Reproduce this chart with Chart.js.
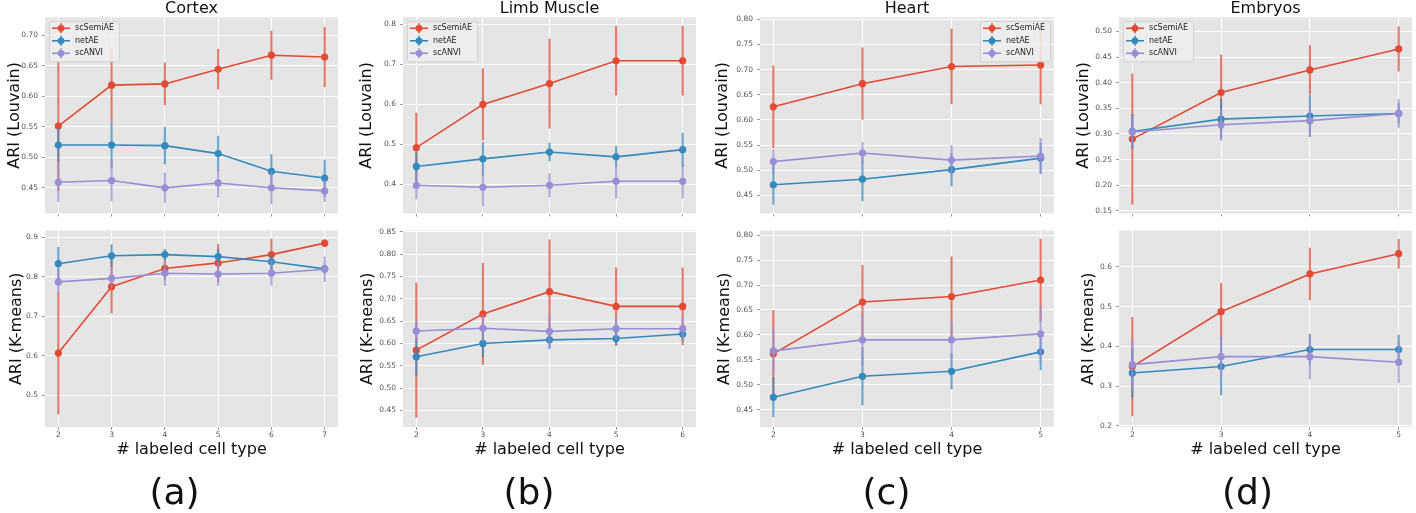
<!DOCTYPE html>
<html>
<head>
<meta charset="utf-8">
<script src="https://cdn.jsdelivr.net/npm/chart.js@4.4.1/dist/chart.umd.min.js"></script>
<style>
  body { margin: 0; background: #fff; width: 1416px; height: 513px; position: relative; overflow: hidden; }
</style>
</head>
<body>
<script>
// number of labeled cell types on the x axis
const cortexX = [2, 3, 4, 5, 6, 7];
const limbX = [2, 3, 4, 5, 6];
const heartX = [2, 3, 4, 5];
const embryoX = [2, 3, 4, 5];

const seriesNames = ['scSemiAE', 'netAE', 'scANVI'];

// Cortex
const cortexLouvainSemi = [0.551, 0.618, 0.620, 0.644, 0.667, 0.664];
const cortexLouvainSemiErr = [0.106, 0.060, 0.035, 0.033, 0.040, 0.049];
const cortexLouvainNet = [0.520, 0.520, 0.519, 0.506, 0.477, 0.466];
const cortexLouvainNetErr = [0.028, 0.038, 0.031, 0.029, 0.028, 0.030];
const cortexLouvainAnvi = [0.459, 0.462, 0.450, 0.458, 0.450, 0.445];
const cortexLouvainAnviErr = [0.032, 0.034, 0.025, 0.024, 0.027, 0.018];
const cortexLouvainTicks = ['0.45', '0.50', '0.55', '0.60', '0.65', '0.70'];

const cortexKmeansSemi = [0.607, 0.775, 0.821, 0.835, 0.856, 0.885];
const cortexKmeansSemiErr = [0.155, 0.068, 0.030, 0.048, 0.040, 0.010];
const cortexKmeansNet = [0.833, 0.853, 0.856, 0.851, 0.838, 0.820];
const cortexKmeansNetErr = [0.042, 0.029, 0.014, 0.020, 0.020, 0.010];
const cortexKmeansAnvi = [0.787, 0.796, 0.809, 0.807, 0.809, 0.819];
const cortexKmeansAnviErr = [0.030, 0.025, 0.032, 0.030, 0.032, 0.032];
const cortexKmeansTicks = ['0.5', '0.6', '0.7', '0.8', '0.9'];

// Limb Muscle
const limbLouvainSemi = [0.492, 0.600, 0.652, 0.709, 0.709];
const limbLouvainSemiErr = [0.087, 0.090, 0.112, 0.087, 0.087];
const limbLouvainNet = [0.445, 0.464, 0.481, 0.469, 0.487];
const limbLouvainNetErr = [0.035, 0.042, 0.023, 0.027, 0.042];
const limbLouvainAnvi = [0.398, 0.393, 0.398, 0.408, 0.408];
const limbLouvainAnviErr = [0.035, 0.047, 0.030, 0.043, 0.043];
const limbLouvainTicks = ['0.4', '0.5', '0.6', '0.7', '0.8'];

const limbKmeansSemi = [0.585, 0.666, 0.716, 0.683, 0.683];
const limbKmeansSemiErr = [0.151, 0.114, 0.117, 0.087, 0.087];
const limbKmeansNet = [0.570, 0.600, 0.608, 0.611, 0.621];
const limbKmeansNetErr = [0.043, 0.031, 0.020, 0.016, 0.015];
const limbKmeansAnvi = [0.628, 0.634, 0.627, 0.633, 0.633];
const limbKmeansAnviErr = [0.023, 0.030, 0.038, 0.025, 0.026];
const limbKmeansTicks = ['0.45', '0.50', '0.55', '0.60', '0.65', '0.70', '0.75', '0.80', '0.85'];

// Heart
const heartLouvainSemi = [0.626, 0.672, 0.706, 0.709];
const heartLouvainSemiErr = [0.082, 0.072, 0.075, 0.078];
const heartLouvainNet = [0.471, 0.482, 0.501, 0.524];
const heartLouvainNetErr = [0.040, 0.044, 0.033, 0.030];
const heartLouvainAnvi = [0.517, 0.534, 0.520, 0.528];
const heartLouvainAnviErr = [0.024, 0.022, 0.030, 0.036];
const heartLouvainTicks = ['0.45', '0.50', '0.55', '0.60', '0.65', '0.70', '0.75', '0.80'];

const heartKmeansSemi = [0.562, 0.666, 0.677, 0.710];
const heartKmeansSemiErr = [0.088, 0.074, 0.080, 0.083];
const heartKmeansNet = [0.475, 0.517, 0.527, 0.566];
const heartKmeansNetErr = [0.040, 0.058, 0.036, 0.037];
const heartKmeansAnvi = [0.568, 0.590, 0.590, 0.602];
const heartKmeansAnviErr = [0.047, 0.052, 0.038, 0.057];
const heartKmeansTicks = ['0.45', '0.50', '0.55', '0.60', '0.65', '0.70', '0.75', '0.80'];

// Embryos
const embryoLouvainSemi = [0.290, 0.381, 0.425, 0.466];
const embryoLouvainSemiErr = [0.128, 0.074, 0.048, 0.044];
const embryoLouvainNet = [0.305, 0.329, 0.335, 0.340];
const embryoLouvainNetErr = [0.034, 0.039, 0.041, 0.020];
const embryoLouvainAnvi = [0.304, 0.318, 0.326, 0.340];
const embryoLouvainAnviErr = [0.030, 0.031, 0.030, 0.028];
const embryoLouvainTicks = ['0.15', '0.20', '0.25', '0.30', '0.35', '0.40', '0.45', '0.50'];

const embryoKmeansSemi = [0.349, 0.487, 0.582, 0.633];
const embryoKmeansSemiErr = [0.125, 0.072, 0.066, 0.037];
const embryoKmeansNet = [0.333, 0.349, 0.392, 0.392];
const embryoKmeansNetErr = [0.062, 0.072, 0.039, 0.037];
const embryoKmeansAnvi = [0.354, 0.374, 0.374, 0.360];
const embryoKmeansAnviErr = [0.063, 0.051, 0.057, 0.052];
const embryoKmeansTicks = ['0.2', '0.3', '0.4', '0.5', '0.6'];

// styling
const FONT = '"DejaVu Sans", sans-serif';
const seriesColors = ['#E24A33', '#348ABD', '#988ED5'];
Chart.defaults.font.family = FONT;

const panels = [
  { title: 'Cortex', tag: '(a)', x: cortexX, xRange: [1.75, 7.25], legend: 'left',
    louvain: { values: [cortexLouvainSemi, cortexLouvainNet, cortexLouvainAnvi],
               errors: [cortexLouvainSemiErr, cortexLouvainNetErr, cortexLouvainAnviErr],
               ticks: cortexLouvainTicks, range: [0.408, 0.729] },
    kmeans: { values: [cortexKmeansSemi, cortexKmeansNet, cortexKmeansAnvi],
              errors: [cortexKmeansSemiErr, cortexKmeansNetErr, cortexKmeansAnviErr],
              ticks: cortexKmeansTicks, range: [0.42, 0.917] } },
  { title: 'Limb Muscle', tag: '(b)', x: limbX, xRange: [1.8, 6.2], legend: 'left',
    louvain: { values: [limbLouvainSemi, limbLouvainNet, limbLouvainAnvi],
               errors: [limbLouvainSemiErr, limbLouvainNetErr, limbLouvainAnviErr],
               ticks: limbLouvainTicks, range: [0.3275, 0.8175] },
    kmeans: { values: [limbKmeansSemi, limbKmeansNet, limbKmeansAnvi],
              errors: [limbKmeansSemiErr, limbKmeansNetErr, limbKmeansAnviErr],
              ticks: limbKmeansTicks, range: [0.4128, 0.853] } },
  { title: 'Heart', tag: '(c)', x: heartX, xRange: [1.85, 5.15], legend: 'right',
    louvain: { values: [heartLouvainSemi, heartLouvainNet, heartLouvainAnvi],
               errors: [heartLouvainSemiErr, heartLouvainNetErr, heartLouvainAnviErr],
               ticks: heartLouvainTicks, range: [0.4138, 0.804] },
    kmeans: { values: [heartKmeansSemi, heartKmeansNet, heartKmeansAnvi],
              errors: [heartKmeansSemiErr, heartKmeansNetErr, heartKmeansAnviErr],
              ticks: heartKmeansTicks, range: [0.4154, 0.8093] } },
  { title: 'Embryos', tag: '(d)', x: embryoX, xRange: [1.85, 5.15], legend: 'left',
    louvain: { values: [embryoLouvainSemi, embryoLouvainNet, embryoLouvainAnvi],
               errors: [embryoLouvainSemiErr, embryoLouvainNetErr, embryoLouvainAnviErr],
               ticks: embryoLouvainTicks, range: [0.1448, 0.5278] },
    kmeans: { values: [embryoKmeansSemi, embryoKmeansNet, embryoKmeansAnvi],
              errors: [embryoKmeansSemiErr, embryoKmeansNetErr, embryoKmeansAnviErr],
              ticks: embryoKmeansTicks, range: [0.197, 0.6913] } },
];

// where each column's plot area sits on the page
const cols = [
  { left: 45, right: 342, labelTop: 15, labelBottom: 17 },
  { left: 403, right: 700, labelTop: 367, labelBottom: 368 },
  { left: 760, right: 1058, labelTop: 723, labelBottom: 725 },
  { left: 1119, right: 1416, labelTop: 1084, labelBottom: 1089 },
];

const panelBg = {
  id: 'panelBg',
  beforeDraw(chart) {
    const { ctx, chartArea: a } = chart;
    ctx.save();
    ctx.fillStyle = '#E5E5E5';
    ctx.fillRect(a.left, a.top, a.right - a.left, a.bottom - a.top);
    ctx.restore();
  }
};

const errorBars = {
  id: 'errorBars',
  beforeDatasetDraw(chart, args) {
    const ds = chart.data.datasets[args.index];
    if (!ds.errors) return;
    const { ctx, chartArea: a, scales: { x, y } } = chart;
    ctx.save();
    ctx.beginPath();
    ctx.rect(a.left, a.top, a.right - a.left, a.bottom - a.top);
    ctx.clip();
    ctx.strokeStyle = ds.borderColor;
    ctx.globalAlpha = 0.75;
    ctx.lineWidth = 2;
    ds.data.forEach((p, j) => {
      const px = x.getPixelForValue(p.x);
      ctx.beginPath();
      ctx.moveTo(px, y.getPixelForValue(p.y - ds.errors[j]));
      ctx.lineTo(px, y.getPixelForValue(p.y + ds.errors[j]));
      ctx.stroke();
    });
    ctx.restore();
  }
};

// matplotlib-like legend drawn inside the plot
const insideLegend = {
  id: 'insideLegend',
  afterDraw(chart, args, opts) {
    if (!opts.side) return;
    const { ctx, chartArea: a } = chart;
    const w = 70, h = 40;
    const bx = opts.side === 'left' ? a.left + 4 : a.right - 4 - w;
    const by = a.top + 4;
    ctx.save();
    ctx.beginPath();
    ctx.roundRect(bx + 0.5, by + 0.5, w, h, 2);
    ctx.fillStyle = 'rgba(238,238,238,0.85)';
    ctx.fill();
    ctx.strokeStyle = 'rgba(204,204,204,0.8)';
    ctx.lineWidth = 1;
    ctx.stroke();
    ctx.font = '8px ' + FONT;
    ctx.textBaseline = 'middle';
    seriesNames.forEach((name, i) => {
      const ry = by + 7 + i * 12.5;
      const c = seriesColors[i];
      ctx.strokeStyle = c;
      ctx.globalAlpha = 0.75;
      ctx.lineWidth = 2;
      ctx.beginPath();
      ctx.moveTo(bx + 12, ry - 5);
      ctx.lineTo(bx + 12, ry + 5);
      ctx.stroke();
      ctx.globalAlpha = 1;
      ctx.lineWidth = 1.6;
      ctx.beginPath();
      ctx.moveTo(bx + 3, ry);
      ctx.lineTo(bx + 21, ry);
      ctx.stroke();
      ctx.fillStyle = c;
      ctx.beginPath();
      ctx.arc(bx + 12, ry, 3.4, 0, Math.PI * 2);
      ctx.fill();
      ctx.fillStyle = '#222';
      ctx.fillText(name, bx + 26, ry);
    });
    ctx.restore();
  }
};

function makeChart(panel, col, row) {
  const g = cols[col];
  const isTop = row === 0;
  const m = isTop ? panel.louvain : panel.kmeans;
  const labelCenter = isTop ? g.labelTop : g.labelBottom;
  const canvasLeft = Math.floor(labelCenter - 9.6);
  const yTitlePad = labelCenter - 9.6 - canvasLeft;
  const top = isTop ? 0 : 222;
  const height = isTop ? 222 : 291;
  const width = g.right - canvasLeft;

  const cv = document.createElement('canvas');
  cv.width = width;
  cv.height = height;
  cv.style.cssText = `position:absolute;left:${canvasLeft}px;top:${top}px;width:${width}px;height:${height}px`;
  document.body.appendChild(cv);

  const tickLabels = m.ticks;
  const tickValues = tickLabels.map(Number);

  new Chart(cv, {
    type: 'line',
    data: {
      datasets: seriesNames.map((name, i) => ({
        label: name,
        data: panel.x.map((xv, j) => ({ x: xv, y: m.values[i][j] })),
        errors: m.errors[i],
        borderColor: seriesColors[i],
        backgroundColor: seriesColors[i],
        pointBackgroundColor: seriesColors[i],
        pointBorderWidth: 0,
        pointRadius: 3.6,
        borderWidth: 1.6,
        tension: 0,
        order: 3 - i
      }))
    },
    options: {
      responsive: false,
      animation: false,
      devicePixelRatio: 1,
      layout: { padding: { top: isTop ? 0 : 7, left: 0, right: 0, bottom: 0 } },
      plugins: {
        legend: { display: false },
        tooltip: { enabled: false },
        title: isTop
          ? { display: true, text: panel.title, fullSize: false, color: '#111', padding: 0,
              font: { family: FONT, size: 16, weight: 'normal', lineHeight: 1.08 } }
          : { display: true, position: 'bottom', text: panel.tag, color: '#111', padding: 0,
              font: { family: FONT, size: 36, weight: 'normal', lineHeight: 1 } },
        insideLegend: { side: isTop ? panel.legend : null }
      },
      scales: {
        x: {
          type: 'linear',
          min: panel.xRange[0],
          max: panel.xRange[1],
          afterBuildTicks: s => { s.ticks = panel.x.map(v => ({ value: v })); },
          afterFit: s => { s.height = isTop ? 7 : 50; },
          grid: { color: '#fff', lineWidth: 1, tickColor: '#999', tickLength: 3 },
          border: { display: false },
          ticks: {
            autoSkip: false, maxRotation: 0, padding: 1, color: '#555',
            font: { family: FONT, size: 7.5 },
            callback: v => isTop ? '' : String(v)
          },
          title: {
            display: !isTop, text: '# labeled cell type', color: '#111',
            font: { family: FONT, size: 16 }, padding: { top: 0, bottom: 17.4 }
          }
        },
        y: {
          type: 'linear',
          min: m.range[0],
          max: m.range[1],
          afterBuildTicks: s => { s.ticks = tickValues.map(v => ({ value: v })); },
          afterFit: s => { s.width = g.left - canvasLeft; },
          grid: { color: '#fff', lineWidth: 1, tickColor: '#999', tickLength: 3 },
          border: { display: false },
          ticks: {
            autoSkip: false, padding: 4, color: '#555',
            font: { family: FONT, size: 7.5 },
            callback: (v, i) => tickLabels[i]
          },
          title: {
            display: true, text: isTop ? 'ARI (Louvain)' : 'ARI (K-means)', color: '#111',
            font: { family: FONT, size: 16 }, padding: { top: yTitlePad, bottom: 0 }
          }
        }
      }
    },
    plugins: [panelBg, errorBars, insideLegend]
  });
}

panels.forEach((p, c) => {
  makeChart(p, c, 0);
  makeChart(p, c, 1);
});
</script>
</body>
</html>
